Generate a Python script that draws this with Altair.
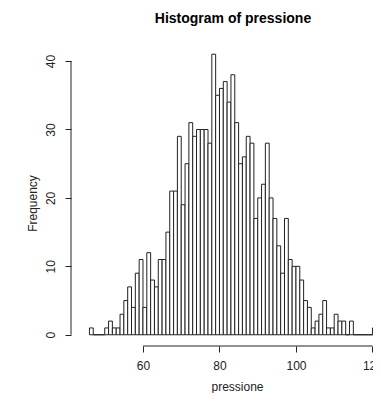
import altair as alt
import pandas as pd

# Histogram bins (width 1) and their frequencies
bin_starts = list(range(46, 121))
counts = [1, 0, 0, 0,
          1, 2, 1, 1, 3, 5, 7, 4, 9, 11,
          4, 12, 8, 7, 11, 11, 15, 21, 21, 29,
          19, 25, 31, 29, 30, 30, 30, 28, 41, 35,
          36, 37, 34, 38, 31, 25, 26, 29, 28, 17,
          20, 22, 28, 20, 17, 13, 9, 17, 11, 10,
          10, 8, 5, 4, 1, 2, 3, 5, 1, 1,
          3, 2, 2, 0, 2, 0, 0, 0, 0, 0,
          1]
x_ticks = [60, 80, 100, 120]
y_ticks = [0, 10, 20, 30, 40]

df = pd.DataFrame({
    "lo": bin_starts,
    "hi": [b + 1 for b in bin_starts],
    "count": counts,
    "base": [0] * len(counts),
})
yaxis_df = pd.DataFrame({"count": [y_ticks[0]], "base": [y_ticks[-1]]})
xaxis_df = pd.DataFrame({"lo": [x_ticks[0]], "hi": [x_ticks[-1]]})

W, H = 302, 303
FONT = "Liberation Sans"
xscale = alt.Scale(domain=[41.18, 120.14], nice=False, zero=False)
yscale = alt.Scale(domain=[-1.64, 42.64], nice=False, zero=False)

bars = alt.Chart(df).mark_rect(
    fill="white", stroke="#222", strokeWidth=1
).encode(
    x=alt.X("lo:Q", scale=xscale, title="pressione",
            axis=alt.Axis(values=x_ticks, domain=False, grid=False)),
    x2="hi:Q",
    y=alt.Y("count:Q", scale=yscale, title="Frequency",
            axis=alt.Axis(values=y_ticks, domain=False, grid=False)),
    y2="base:Q",
)

yline = alt.Chart(yaxis_df).mark_rule(color="#222", strokeWidth=1).encode(
    x=alt.value(0),
    y=alt.Y("count:Q", scale=yscale, title="Frequency"),
    y2="base:Q",
)
xline = alt.Chart(xaxis_df).mark_rule(color="#222", strokeWidth=1).encode(
    y=alt.value(H),
    x=alt.X("lo:Q", scale=xscale, title="pressione"),
    x2="hi:Q",
)

chart = alt.layer(bars, yline, xline).properties(
    width=W, height=H,
    background="white",
    title=alt.TitleParams(
        text="Histogram of pressione", font=FONT, fontSize=14,
        fontWeight="bold", color="black", anchor="middle", dx=11,
        baseline="alphabetic", offset=6),
    autosize=alt.AutoSizeParams(type="none"),
    padding={"left": 63, "top": 35, "right": 0, "bottom": 47},
).configure_view(
    strokeWidth=0, stroke="transparent"
).configure_axis(
    format="d", domain=False, grid=False,
    tickSize=6, tickColor="#222", labelFontSize=12, labelFont=FONT,
    labelColor="#222", labelOverlap=False,
    titleFont=FONT, titleFontSize=12, titleFontWeight="normal",
    titleColor="#222",
).configure_axisX(
    labelPadding=8, labelFlush=False,
    titleX=166, titleY=44, titleBaseline="alphabetic", titleAlign="center",
).configure_axisY(
    labelAngle=270, labelAlign="center", labelBaseline="bottom",
    labelPadding=8, titleAngle=270, titleX=-39, titleY=160,
    titleAlign="center", titleBaseline="middle",
)

chart.save("out.html", embed_options={"renderer": "svg", "actions": False})
